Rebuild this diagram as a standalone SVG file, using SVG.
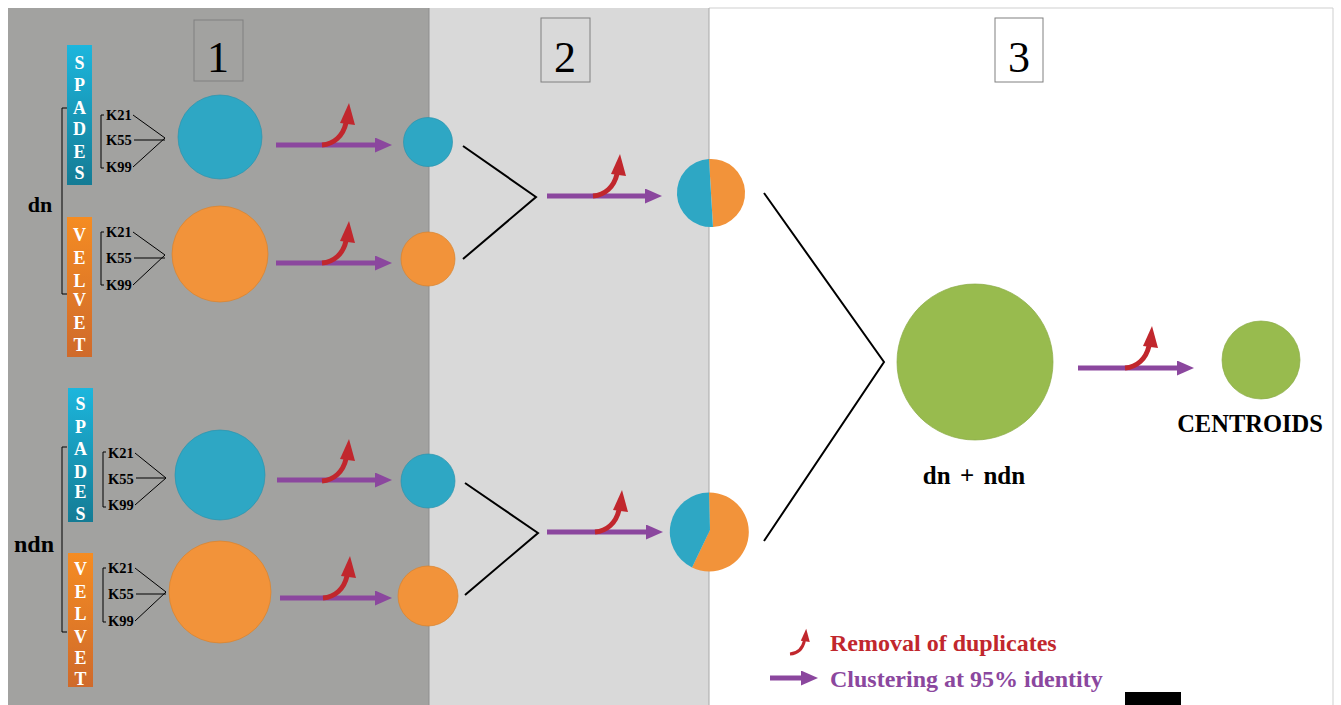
<svg xmlns="http://www.w3.org/2000/svg" xmlns:xlink="http://www.w3.org/1999/xlink" width="1341" height="705" viewBox="0 0 1341 705">
<style>
.bar{fill:#fff;font-family:"Liberation Serif",serif;font-weight:bold;font-size:18px;text-anchor:middle}
.k{fill:#000;font-family:"Liberation Serif",serif;font-weight:bold;font-size:14.5px}
.lbl{fill:#000;font-family:"Liberation Serif",serif;font-weight:bold}
.num{fill:#000;font-family:"Liberation Serif",serif;font-size:44px;text-anchor:middle}
.br{fill:none;stroke:#000;stroke-width:1}
.kl{fill:none;stroke:#000;stroke-width:1}
.con{fill:none;stroke:#000;stroke-width:2}
.blue{fill:#2ea7c4;stroke:#2a93ad;stroke-width:0.7}
.orange{fill:#f2933a;stroke:#d9822c;stroke-width:0.7}
.green{fill:#98bb4e;stroke:#8aab45;stroke-width:0.7}
.pa{stroke:#8b479e;stroke-width:5;fill:none}
.box{fill:none;stroke:#808080;stroke-width:1}
</style>
<defs>
<linearGradient id="gBlue" x1="0" y1="0" x2="0" y2="1">
<stop offset="0" stop-color="#1cb6dd"/><stop offset="1" stop-color="#147b94"/>
</linearGradient>
<linearGradient id="gOrange" x1="0" y1="0" x2="0" y2="1">
<stop offset="0" stop-color="#f58c22"/><stop offset="1" stop-color="#cf6a2b"/>
</linearGradient>
<marker id="ph" markerUnits="userSpaceOnUse" markerWidth="17" markerHeight="15" refX="5" refY="7.5" orient="auto" viewBox="0 0 17 15">
<path d="M0,0 L17,7.5 L0,15 Z" fill="#8b479e"/>
</marker>
<g id="dup">
<path d="M0,0 C12,-1 21,-9 24,-22" fill="none" stroke="#c1272d" stroke-width="5"/>
<path d="M27,-42 L18,-22 L33,-20 Z" fill="#c1272d"/>
</g>
</defs>

<rect x="0" y="0" width="1341" height="705" fill="#fff"/>
<g id="panel1"><rect x="8" y="8" width="421" height="697" fill="#a2a2a0"/><rect x="194" y="20" width="49" height="61" class="box"/><text x="218" y="72" class="num">1</text></g>
<g id="panel2"><rect x="429" y="8" width="280" height="697" fill="#d9d9d9"/><line x1="429" y1="8" x2="429" y2="705" stroke="#8f8f8f" stroke-width="1"/><rect x="541" y="18" width="49" height="64" class="box" stroke="#999"/><text x="565" y="72" class="num">2</text></g>
<g id="panel3"><line x1="709" y1="8" x2="1333" y2="8" stroke="#cfcfcf"/><line x1="1333" y1="8" x2="1333" y2="705" stroke="#cfcfcf"/><line x1="709" y1="8" x2="709" y2="705" stroke="#a8a8a8"/><rect x="995" y="18" width="48" height="64" class="box" stroke="#aaa"/><text x="1019" y="72" class="num">3</text></g>

<g id="dn-group">
<text x="40" y="212" class="lbl" font-size="22" text-anchor="middle">dn</text>
<path d="M67,108 H62 V294 H67" class="br"/>
</g>
<g id="ndn-group">
<text x="34" y="552" class="lbl" font-size="24" text-anchor="middle">ndn</text>
<path d="M67,447 H62 V632 H67" class="br"/>
</g>

<g id="spades1">
<rect x="67" y="45" width="25" height="140" fill="url(#gBlue)"/>
<text class="bar"><tspan x="79.5" y="69">S</tspan><tspan x="79.5" y="91">P</tspan><tspan x="79.5" y="114">A</tspan><tspan x="79.5" y="135">D</tspan><tspan x="79.5" y="158">E</tspan><tspan x="79.5" y="179">S</tspan></text>
<path d="M104,115 H101 V168 H104" class="br"/>
<text class="k"><tspan x="106" y="120">K21</tspan><tspan x="106" y="145">K55</tspan><tspan x="106" y="172">K99</tspan></text>
<path d="M133,115 L165,138 M134,140 H165 M133,167 L165,138" class="kl"/>
<circle cx="220" cy="137" r="42" class="blue"/>
</g>
<g id="velvet1">
<rect x="67" y="217" width="25" height="140" fill="url(#gOrange)"/>
<text class="bar"><tspan x="79.5" y="241">V</tspan><tspan x="79.5" y="264">E</tspan><tspan x="79.5" y="287">L</tspan><tspan x="79.5" y="306">V</tspan><tspan x="79.5" y="329">E</tspan><tspan x="79.5" y="351">T</tspan></text>
<path d="M104,232 H101 V285 H104" class="br"/>
<text class="k"><tspan x="106" y="237">K21</tspan><tspan x="106" y="263">K55</tspan><tspan x="106" y="290">K99</tspan></text>
<path d="M133,232 L165,255 M134,258 H165 M133,285 L165,255" class="kl"/>
<circle cx="220" cy="254" r="48" class="orange"/>
</g>
<g id="spades2">
<rect x="68" y="388" width="25" height="134" fill="url(#gBlue)"/>
<text class="bar"><tspan x="80.5" y="410">S</tspan><tspan x="80.5" y="433">P</tspan><tspan x="80.5" y="455">A</tspan><tspan x="80.5" y="478">D</tspan><tspan x="80.5" y="498">E</tspan><tspan x="80.5" y="520">S</tspan></text>
<path d="M106,452 H103 V507 H106" class="br"/>
<text class="k"><tspan x="108" y="458">K21</tspan><tspan x="108" y="484">K55</tspan><tspan x="108" y="510">K99</tspan></text>
<path d="M135,453 L166,478 M136,478 H166 M135,505 L166,478" class="kl"/>
<circle cx="220" cy="475" r="45" class="blue"/>
</g>
<g id="velvet2">
<rect x="68" y="553" width="25" height="134" fill="url(#gOrange)"/>
<text class="bar"><tspan x="80.5" y="575">V</tspan><tspan x="80.5" y="598">E</tspan><tspan x="80.5" y="620">L</tspan><tspan x="80.5" y="643">V</tspan><tspan x="80.5" y="664">E</tspan><tspan x="80.5" y="685">T</tspan></text>
<path d="M106,568 H103 V622 H106" class="br"/>
<text class="k"><tspan x="108" y="573">K21</tspan><tspan x="108" y="599">K55</tspan><tspan x="108" y="626">K99</tspan></text>
<path d="M135,568 L166,592 M136,594 H166 M135,621 L166,592" class="kl"/>
<circle cx="220" cy="592" r="51" class="orange"/>
</g>

<g id="small-blue1"><circle cx="428" cy="142" r="24.5" class="blue"/></g>
<g id="small-orange1"><circle cx="428" cy="259" r="27" class="orange"/></g>
<g id="small-blue2"><circle cx="428" cy="481" r="27" class="blue"/></g>
<g id="small-orange2"><circle cx="428" cy="596" r="30" class="orange"/></g>

<g id="pie-dn">
<path d="M709,159 A34,34 0 0 1 713,227 Z" fill="#f2933a"/>
<path d="M709,159 A34,34 0 1 0 713,227 Z" fill="#2ea7c4"/>
</g>
<g id="pie-ndn">
<path d="M709,492.5 A39.5,39.5 0 1 1 692,567.5 L710,530 Z" fill="#f2933a"/>
<path d="M709,492.5 A39.5,39.5 0 0 0 692,567.5 L710,530 Z" fill="#2ea7c4"/>
</g>
<g id="merged"><circle cx="975" cy="362" r="78" class="green"/><text x="974" y="484" class="lbl" font-size="25" text-anchor="middle" word-spacing="3">dn + ndn</text></g>
<g id="centroids"><circle cx="1261" cy="360" r="39" class="green"/><text x="1250" y="432" class="lbl" font-size="24.5" text-anchor="middle">CENTROIDS</text></g>

<g id="connectors">
<path d="M463,146 L536,197 L463,259" class="con"/>
<path d="M465,483 L538,533 L465,595" class="con"/>
<path d="M764,193 L884,362 L764,541" class="con"/>
<line x1="276" y1="145" x2="380" y2="145" class="pa" marker-end="url(#ph)"/>
<line x1="276" y1="263" x2="380" y2="263" class="pa" marker-end="url(#ph)"/>
<line x1="277" y1="480" x2="380" y2="480" class="pa" marker-end="url(#ph)"/>
<line x1="280" y1="598" x2="380" y2="598" class="pa" marker-end="url(#ph)"/>
<line x1="547" y1="196" x2="650" y2="196" class="pa" marker-end="url(#ph)"/>
<line x1="547" y1="532" x2="651" y2="532" class="pa" marker-end="url(#ph)"/>
<line x1="1078" y1="368" x2="1182" y2="368" class="pa" marker-end="url(#ph)"/>
<use xlink:href="#dup" x="322" y="145"/>
<use xlink:href="#dup" x="322" y="263"/>
<use xlink:href="#dup" x="322" y="481"/>
<use xlink:href="#dup" x="323" y="598"/>
<use xlink:href="#dup" x="593" y="196"/>
<use xlink:href="#dup" x="595" y="532"/>
<use xlink:href="#dup" x="1125" y="368"/>
</g>

<g id="legend">
<g transform="translate(790,654) scale(0.6)"><use xlink:href="#dup"/></g>
<text x="830" y="651" class="lbl" font-size="24" style="fill:#c1272d">Removal of duplicates</text>
<line x1="770" y1="678" x2="806" y2="678" class="pa" stroke-width="4" marker-end="url(#ph)"/>
<text x="830" y="687" class="lbl" font-size="24" style="fill:#8b479e">Clustering at 95% identity</text>
</g>
<rect x="1125" y="692" width="56" height="13" fill="#000"/>
</svg>
